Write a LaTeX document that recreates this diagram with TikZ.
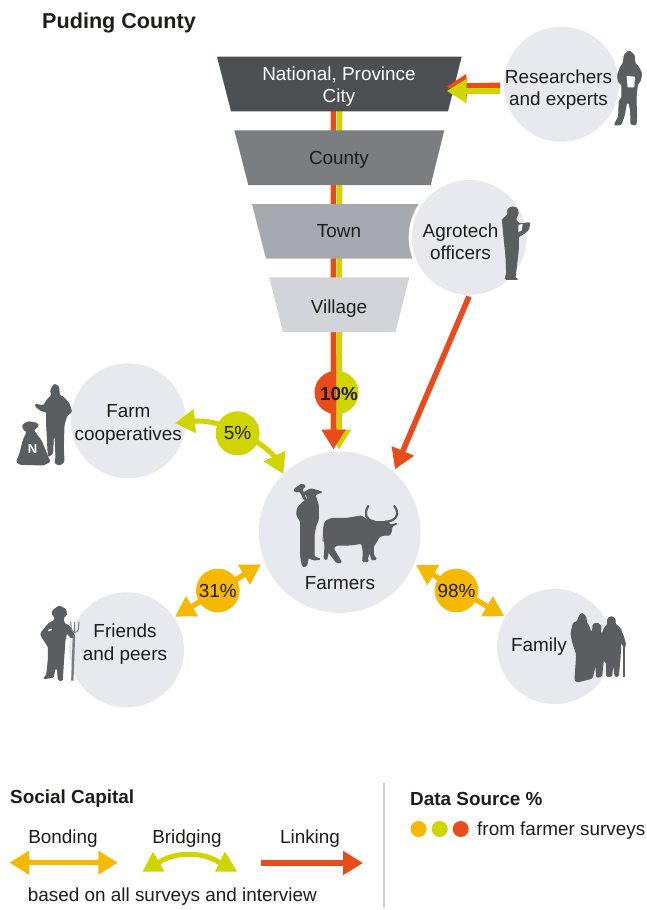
\documentclass[tikz,border=0pt]{standalone}
\usepackage{fontspec}
\setmainfont{Liberation Sans}
\usetikzlibrary{arrows.meta}
\definecolor{cLink}{HTML}{E84B1C}
\definecolor{cBridge}{HTML}{D0D500}
\definecolor{cBond}{HTML}{F7B800}
\definecolor{cInk}{HTML}{1D1D1B}
\definecolor{cSil}{HTML}{5B5E61}
\definecolor{cDisc}{HTML}{E8E9EE}
\definecolor{cT1}{HTML}{4D5052}
\definecolor{cT2}{HTML}{7A7E81}
\definecolor{cT3}{HTML}{A6A9B0}
\definecolor{cT4}{HTML}{D3D4DA}
\tikzset{
  lbl/.style={text=cInk,font=\fontsize{18.9}{22.5}\selectfont,align=center,inner sep=0pt},
  legendlbl/.style={lbl,font=\fontsize{18.9}{22}\selectfont},
  headlbl/.style={text=cInk,font=\bfseries\fontsize{18.9}{22}\selectfont,inner sep=0pt},
  disc/.style={circle,fill=cDisc,minimum size=115pt,inner sep=0pt},
  pct/.style={circle,minimum size=43.6pt,inner sep=0pt,text=cInk,font=\fontsize{18.9}{22}\selectfont},
  dotkey/.style={circle,minimum size=16pt,inner sep=0pt},
  sil/.style={fill=cSil,draw=cSil,line width=1pt,rounded corners=1.2pt},
  linkarrow/.style={draw=cLink,line width=5.6pt,-{Triangle[length=20pt,width=23pt,fill=cLink]}},
  bridgearrow/.style={draw=cBridge,line width=5.6pt,-{Triangle[length=20pt,width=23pt,fill=cBridge]}},
  bondarrow/.style={draw=cBond,line width=5.2pt,{Triangle[length=20pt,width=22pt,fill=cBond]}-{Triangle[length=20pt,width=22pt,fill=cBond]}},
}
\begin{document}
\begin{tikzpicture}[x=1pt,y=-1pt]
\useasboundingbox (0,0) rectangle (646,910);
\fill[white] (0,0) rectangle (646,910);

% named connector ends
\coordinate (vOtop) at (333.3,100);
\coordinate (vYtop) at (339.7,100);
\coordinate (vOend) at (333.5,449.5);
\coordinate (vYend) at (339,449.5);
\coordinate (rStart) at (500,85.3);
\coordinate (rStartY) at (500,91);
\coordinate (rEnd) at (446.7,86.5);
\coordinate (rEndY) at (446.7,91);
\coordinate (aStart) at (469,296.5);
\coordinate (aEnd) at (395,469.3);
\coordinate (c5L) at (175,423.3);
\coordinate (c5R) at (283.3,474);
\coordinate (f31a) at (175,616.7);
\coordinate (f31b) at (261,564.3);
\coordinate (f98a) at (416,565);
\coordinate (f98b) at (504.3,616.3);
\coordinate (keyBondL) at (9.5,862.7);
\coordinate (keyBondR) at (117.8,862.7);
\coordinate (keyBrL) at (157,864);
\coordinate (keyBrR) at (221,864);
\coordinate (keyLinkL) at (261,863);
\coordinate (keyLinkR) at (363,863);
\coordinate (sepTop) at (383.5,783);
\coordinate (sepEnd) at (383.5,908);

% vertical connectors behind the funnel
\draw[bridgearrow] (vYtop) -- (vYend);
\draw[linkarrow] (vOtop) -- (vOend);

% funnel
\fill[cT1] (217,56.7) -- (461.7,56.7) -- (448,111.3) -- (231,111.3) -- cycle;
\fill[cT2] (234.3,130.3) -- (444.3,130.3) -- (430.7,185) -- (248.3,185) -- cycle;
\fill[cT3] (252,204) -- (427,204) -- (413,258.7) -- (266,258.7) -- cycle;
\fill[cT4] (269.3,277.3) -- (409.3,277.3) -- (395.5,332) -- (283,332) -- cycle;
\node[lbl,text=white] (nat) at (339,86.5) {National, Province\\City};
\node[lbl] (cty) at (339,160) {County};
\node[lbl] (twn) at (339,231) {Town};
\node[lbl] (vil) at (339,309) {Village};

% discs
\node[disc] (res) at (561.3,84.2) {};
\node[disc,draw=white,line width=3pt,minimum size=118pt] (agr) at (469.2,237.5) {};
\node[disc] (coop) at (128.3,420.8) {};
\node[disc] (frd) at (126.5,649.8) {};
\node[disc,minimum size=161.5pt] (frm) at (339.7,532.2) {};
\node[disc] (fam) at (554.7,646.5) {};
\node[lbl] at (558.5,89.5) (resT) {Researchers\\and experts};
\node[lbl] at (460.5,241.5) (agrT) {Agrotech\\officers};
\node[lbl] at (128.3,424.5) (coopT) {Farm\\cooperatives};
\node[lbl] at (125,644) (frdT) {Friends\\and peers};
\node[lbl] at (340,583.5) (frmT) {Farmers};
\node[lbl] at (539,647) (famT) {Family};

% researcher connectors
\draw[linkarrow] (rStart) -- (rEnd);
\draw[bridgearrow] (rStartY) -- (rEndY);
% agrotech connector
\draw[linkarrow] (aStart) -- (aEnd);

% 10% badge
\fill[cLink] (336.2,370.8) arc[start angle=270,end angle=90,radius=21.7] -- cycle;
\fill[cBridge] (336.8,370.8) arc[start angle=270,end angle=450,radius=21.7] -- cycle;
\node[text=cInk,font=\bfseries\fontsize{18.9}{22}\selectfont,inner sep=0pt] (p10) at (339,393.5) {10\%};

% 5% curved connectors
\node[pct,fill=cBridge] (p5) at (237.6,433.3) {};
\draw[bridgearrow,line width=5pt] (p5.center) .. controls (222,423) and (205,420) .. (c5L);
\draw[bridgearrow,line width=5pt] (p5.center) .. controls (255,437) and (274,455) .. (c5R);
\node[pct,fill=cBridge] (p5b) at (p5) {5\%};

% bonding connectors
\draw[bondarrow] (f31a) -- (f31b);
\node[pct,fill=cBond] (p31) at (217.8,590.5) {31\%};
\draw[bondarrow] (f98a) -- (f98b);
\node[pct,fill=cBond] (p98) at (456.5,590.5) {98\%};

% researcher silhouette
\begin{scope}[shift={(200,10)},scale=0.3333]
\fill[sil] (1287,122) -- (1273,135) -- (1270,160) -- (1262,170) -- (1253,195) -- (1255,215) -- (1266,225) -- (1266,265) -- (1258,270) -- (1256,320) -- (1243,345) -- (1262,345) -- (1272,320) -- (1280,278) -- (1287,278) -- (1292,300) -- (1293,343) -- (1308,345) -- (1310,320) -- (1308,265) -- (1312,225) -- (1322,210) -- (1325,190) -- (1315,170) -- (1305,160) -- (1303,135) -- cycle;
\fill[white] (1280,198) -- (1305,200) -- (1303,232) -- (1283,232) -- cycle;
\end{scope}

% agrotech silhouette
\begin{scope}[shift={(200,10)},scale=0.3333]
\fill[sil] (922,600) -- (935,590) -- (952,595) -- (955,612) -- (948,622) -- (948,632) -- (960,642) -- (990,638) -- (985,660) -- (970,672) -- (955,680) -- (955,720) -- (945,805) -- (955,808) -- (915,808) -- (920,790) -- (918,740) -- (912,680) -- (907,628) -- (920,618) -- (925,612) -- cycle;
\fill[white] (955,645) -- (968,642) -- (965,662) -- (955,666) -- cycle;
\end{scope}

% cooperative silhouette (man and sack)
\begin{scope}[shift={(0,340)},scale=0.3333]
\fill[sil] (152,150) -- (163,132) -- (176,140) -- (178,165) -- (190,172) -- (207,190) -- (215,215) -- (200,228) -- (192,255) -- (190,320) -- (192,365) -- (180,375) -- (165,370) -- (168,350) -- (165,290) -- (160,290) -- (158,340) -- (145,350) -- (140,255) -- (140,215) -- (125,213) -- (108,200) -- (105,193) -- (118,195) -- (130,198) -- (145,175) -- (155,168) -- cycle;
\fill[sil] (68,255) -- (85,245) -- (112,250) -- (115,258) -- (100,270) -- (125,305) -- (143,350) -- (150,365) -- (130,375) -- (60,373) -- (50,365) -- (60,340) -- (70,300) -- (82,275) -- (70,268) -- cycle;
\end{scope}
\node[text=white,font=\bfseries\fontsize{13}{13}\selectfont,inner sep=0pt] (sackN) at (32.5,449) {N};

% farmer and ox silhouette
\begin{scope}[shift={(290,480)},scale=0.3333]
\fill[sil] (12,28) -- (35,12) -- (47,18) -- (36,28) -- (48,58) -- (43,60) -- (30,34) -- (16,36) -- cycle;
\fill[sil] (38,40) -- (62,26) -- (97,36) -- (75,44) -- (50,46) -- cycle;
\fill[sil] (50,42) -- (75,42) -- (78,55) -- (85,75) -- (85,120) -- (78,135) -- (72,165) -- (72,230) -- (92,238) -- (70,240) -- (55,232) -- (50,258) -- (38,260) -- (32,230) -- (32,125) -- (20,105) -- (22,85) -- (40,65) -- (52,58) -- cycle;
\fill[sil] (100,150) -- (105,125) -- (125,115) -- (170,115) -- (215,108) -- (228,118) -- (260,125) -- (295,125) -- (300,135) -- (322,130) -- (305,140) -- (305,150) -- (300,165) -- (282,165) -- (268,170) -- (250,200) -- (250,225) -- (260,238) -- (245,240) -- (240,215) -- (232,235) -- (235,245) -- (218,245) -- (220,215) -- (215,190) -- (180,195) -- (140,195) -- (130,205) -- (155,248) -- (140,248) -- (115,215) -- (110,240) -- (102,235) -- (105,200) -- cycle;
\draw[cSil,line width=1pt] (101,150) -- (99,185);
\draw[cSil,line width=2.2pt,line cap=round] (252,124) .. controls (225,120) and (222,98) .. (235,78);
\draw[cSil,line width=2.2pt,line cap=round] (285,125) .. controls (320,125) and (330,100) .. (313,78);
\end{scope}

% friend silhouette
\begin{scope}[shift={(0,340)},scale=0.3333]
\fill[sil] (160,810) -- (178,798) -- (197,808) -- (200,825) -- (190,832) -- (192,850) -- (210,860) -- (225,890) -- (215,895) -- (200,878) -- (195,900) -- (190,970) -- (187,1022) -- (175,1020) -- (172,985) -- (165,985) -- (160,1012) -- (130,1016) -- (140,1005) -- (145,960) -- (145,920) -- (125,890) -- (122,880) -- (145,852) -- (165,840) -- (163,828) -- (155,822) -- cycle;
\draw[white,line width=1.5pt] (145,872) -- (155,868);
\draw[cSil!80!white,line width=2.4pt] (222,885) -- (217,1022);
\draw[cSil!80!white,line width=1pt] (212,845) -- (214,868) .. controls (215,880) and (235,880) .. (235,868) -- (237,845);
\draw[cSil!80!white,line width=1pt] (224,845) -- (224,880);
\end{scope}

% family silhouette
\begin{scope}[shift={(565,608)},scale=0.3333]
\fill[sil] (40,30) -- (50,15) -- (62,25) -- (65,45) -- (72,55) -- (78,75) -- (85,60) -- (83,50) -- (95,45) -- (107,52) -- (108,65) -- (105,72) -- (112,78) -- (118,60) -- (128,50) -- (128,32) -- (138,25) -- (150,32) -- (150,48) -- (165,60) -- (175,85) -- (182,110) -- (178,118) -- (168,100) -- (165,150) -- (160,205) -- (150,205) -- (145,160) -- (140,205) -- (125,205) -- (125,165) -- (115,155) -- (110,205) -- (95,208) -- (92,165) -- (82,210) -- (65,215) -- (35,222) -- (30,215) -- (35,140) -- (22,100) -- (18,75) -- (25,45) -- (38,40) -- cycle;
\draw[cSil,line width=1.8pt] (177,115) -- (177,208);
\end{scope}

% legend
\node[headlbl,anchor=west] (scT) at (10,799) {Social Capital};
\node[legendlbl] (bonT) at (63,839) {Bonding};
\node[legendlbl] (briT) at (187,839) {Bridging};
\node[legendlbl] (lnkT) at (310,839) {Linking};
\draw[bondarrow,line width=5.5pt,{Triangle[length=19.5pt,width=22.7pt,fill=cBond]}-{Triangle[length=19.5pt,width=22.7pt,fill=cBond]}] (keyBondL) -- (keyBondR);
\draw[cBridge,line width=5pt] (keyBrL) .. controls (172,851) and (206,851) .. (keyBrR);
\fill[cBridge] (153,851.7) -- (164.5,871.7) -- (142.6,871.7) -- cycle;
\fill[cBridge] (225,851.7) -- (237,871.7) -- (215,871.7) -- cycle;
\draw[linkarrow,line width=6pt] (keyLinkL) -- (keyLinkR);
\node[legendlbl,anchor=west] (basT) at (27.7,897) {based on all surveys and interview};
\draw[cT4,line width=2pt] (sepTop) -- (sepEnd);
\node[headlbl,anchor=west] (dsT) at (410,799) {Data Source \%};
\node[dotkey,fill=cBond] (d1) at (418.6,829) {};
\node[dotkey,fill=cBridge] (d2) at (439.7,829) {};
\node[dotkey,fill=cLink] (d3) at (460.7,829) {};
\node[legendlbl,anchor=west] (frT) at (477,831) {from farmer surveys};

% title
\node[text=cInk,font=\bfseries\fontsize{21.6}{24}\selectfont,anchor=west,inner sep=0pt] (ttl) at (42,23) {Puding County};
\end{tikzpicture}
\end{document}
